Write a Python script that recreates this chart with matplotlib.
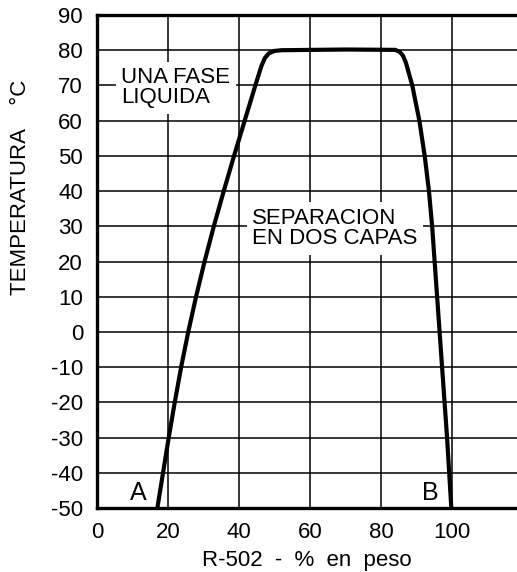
import matplotlib.pyplot as plt

plt.rcParams['font.family'] = ['Liberation Sans', 'DejaVu Sans']

# R-502 % en peso vs temperatura (curva de miscibilidad)
curve_x = [17.0, 18.6, 20.2, 21.9, 23.7, 25.7, 27.9, 30.3, 32.9, 35.7, 38.6,
           41.6, 44.6, 46.3, 47.3, 48.4, 50.0, 52.0, 70.0, 84.0, 85.3,
           86.2, 87.0, 88.8, 90.8, 92.3, 93.5, 94.4, 95.1, 95.8, 96.5,
           97.2, 97.9, 98.6, 99.2, 99.8]
curve_t = [-50, -40, -30, -20, -10, 0, 10, 20, 30, 40, 50,
           60, 70, 75.5, 77.8, 79.1, 79.8, 80.0, 80.2, 80.1, 79.5,
           78.4, 76.5, 70, 60, 50, 40, 30, 20, 10, 0,
           -10, -20, -30, -40, -50]

x_ticks = [0, 20, 40, 60, 80, 100]
y_ticks = list(range(-50, 91, 10))

fig = plt.figure(figsize=(5.17, 5.72), dpi=100)
ax = fig.add_axes([97/517, 64/572, 1 - 97/517, 493/572])

ax.plot(curve_x, curve_t, color="black", lw=3.0, solid_joinstyle="round",
        solid_capstyle="butt", zorder=3)

ax.set_xlim(0, 118.3)
ax.set_ylim(-50, 90)
ax.set_xticks(x_ticks)
ax.set_yticks(y_ticks)
ax.set_yticklabels([str(v) for v in y_ticks])
ax.tick_params(length=0, labelsize=16, pad=10)
ax.grid(True, color="black", lw=1.1)
ax.set_axisbelow(True)

for s in ["left", "bottom", "top"]:
    ax.spines[s].set_linewidth(2.4)
ax.spines["right"].set_visible(False)

ax.set_xlabel("R-502  -  %  en  peso", fontsize=16, labelpad=5)
ax.set_ylabel("TEMPERATURA    °C", fontsize=16)
ax.yaxis.set_label_coords(-0.158, 0.651)

box = dict(facecolor="white", edgecolor="none", pad=4)
ax.text(6.8, 69.3, "UNA FASE\nLIQUIDA", fontsize=16, ha="left", va="center",
        linespacing=0.95, bbox=box, zorder=4)
ax.text(43.7, 29.4, "SEPARACION\nEN DOS CAPAS", fontsize=16, ha="left",
        va="center", linespacing=0.95, bbox=box, zorder=4)
ax.text(11.5, -45.6, "A", fontsize=18, ha="center", va="center")
ax.text(93.8, -45.6, "B", fontsize=18, ha="center", va="center")

fig.savefig("out.png", dpi=100)
